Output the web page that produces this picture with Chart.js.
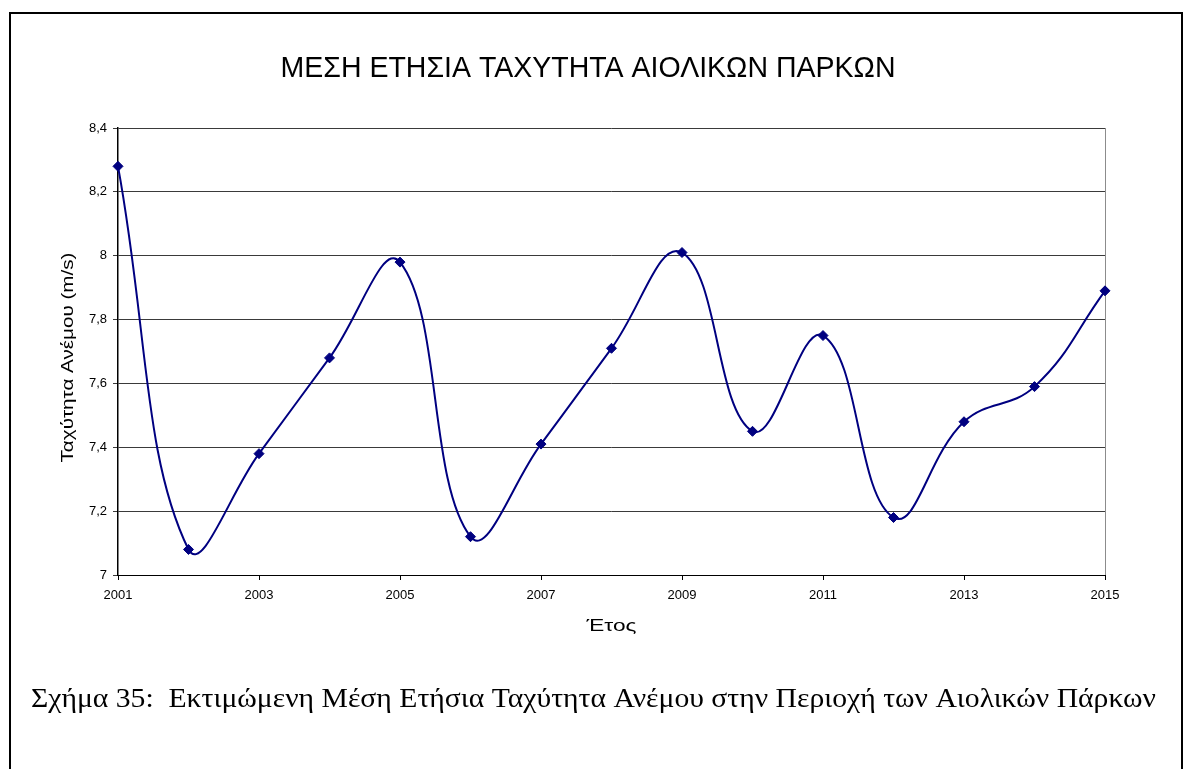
<!DOCTYPE html>
<html>
<head>
<meta charset="utf-8">
<title>Μέση ετήσια ταχύτητα αιολικών πάρκων</title>
<script src="https://cdn.jsdelivr.net/npm/chart.js@4/dist/chart.umd.min.js"></script>
<style>
  html, body { margin: 0; padding: 0; background: #ffffff; }
  canvas { display: block; }
</style>
</head>
<body>
<canvas id="windChart" width="1188" height="769"></canvas>
<script>
// Years and estimated mean annual wind speed (m/s)
const years = [2001, 2002, 2003, 2004, 2005, 2006, 2007, 2008, 2009, 2010, 2011, 2012, 2013, 2014, 2015];
const windSpeed = [8.28, 7.08, 7.38, 7.68, 7.98, 7.12, 7.41, 7.71, 8.01, 7.45, 7.75, 7.18, 7.48, 7.59, 7.89];

// Axis ticks
const yTickValues = [7, 7.2, 7.4, 7.6, 7.8, 8, 8.2, 8.4];
const xTickYears = [2001, 2003, 2005, 2007, 2009, 2011, 2013, 2015];

// Texts
const chartTitle = 'ΜΕΣΗ ΕΤΗΣΙΑ ΤΑΧΥΤΗΤΑ ΑΙΟΛΙΚΩΝ ΠΑΡΚΩΝ';
const xAxisTitle = 'Έτος';
const yAxisTitle = 'Ταχύτητα Ανέμου (m/s)';
const figureCaption = 'Σχήμα 35:  Εκτιμώμενη Μέση Ετήσια Ταχύτητα Ανέμου στην Περιοχή των Αιολικών Πάρκων';

const SANS = '"Liberation Sans", Arial, sans-serif';
const SERIF = '"Liberation Serif", "Times New Roman", serif';
const NAVY = '#000080';

const points = years.map((yr, i) => ({ x: yr, y: windSpeed[i] }));

// Text drawn at a given run length (squeezed or widened along its baseline)
function fittedText(ctx, text, x, y, font, length, align, rotation) {
  ctx.save();
  ctx.font = font;
  const w = ctx.measureText(text).width;
  const s = length ? length / w : 1;
  ctx.translate(x, y);
  if (rotation) ctx.rotate(rotation);
  ctx.scale(s, 1);
  ctx.textAlign = align;
  ctx.textBaseline = 'alphabetic';
  ctx.fillStyle = '#000';
  ctx.fillText(text, 0, 0);
  ctx.restore();
}

const figurePlugin = {
  id: 'figureFrame',
  beforeDraw(chart) {
    const { ctx, width, height } = chart;
    ctx.save();
    ctx.fillStyle = '#fff';
    ctx.fillRect(0, 0, width, height);
    // frame around the figure (open at the bottom)
    ctx.strokeStyle = '#000';
    ctx.lineWidth = 2;
    ctx.beginPath();
    ctx.moveTo(10, height + 2);
    ctx.lineTo(10, 13);
    ctx.lineTo(1182, 13);
    ctx.lineTo(1182, height + 2);
    ctx.stroke();
    ctx.restore();
  },
  beforeDatasetsDraw(chart) {
    // right edge of the plot area
    const { ctx, chartArea: a } = chart;
    ctx.save();
    ctx.strokeStyle = '#8c8c8c';
    ctx.lineWidth = 1;
    ctx.beginPath();
    ctx.moveTo(Math.round(a.right) + 0.5, a.top);
    ctx.lineTo(Math.round(a.right) + 0.5, a.bottom);
    ctx.stroke();
    ctx.restore();
  },
  afterDraw(chart) {
    const { ctx, chartArea: a } = chart;
    const midY = (a.top + a.bottom) / 2;
    fittedText(ctx, chartTitle, 588, 77, '30px ' + SANS, 615, 'center');
    fittedText(ctx, xAxisTitle, (a.left + a.right) / 2, 631, '16px ' + SANS, 50, 'center');
    fittedText(ctx, yAxisTitle, 73, midY + 6, '17px ' + SANS, 210, 'center', -Math.PI / 2);
    fittedText(ctx, figureCaption, 31, 707, '27px ' + SERIF, 1125, 'left');
  }
};

new Chart(document.getElementById('windChart'), {
  type: 'line',
  data: {
    datasets: [{
      data: points,
      borderColor: NAVY,
      backgroundColor: NAVY,
      borderWidth: 2,
      tension: 0.42,
      pointStyle: 'rectRot',
      pointRadius: 5,
      pointBorderWidth: 1,
      pointBackgroundColor: NAVY,
      pointBorderColor: NAVY,
      clip: false
    }]
  },
  options: {
    responsive: false,
    animation: false,
    devicePixelRatio: 1,
    layout: { padding: { left: 52, top: 128, right: 83, bottom: 134 } },
    plugins: {
      legend: { display: false },
      title: { display: false },
      tooltip: { enabled: false }
    },
    scales: {
      x: {
        type: 'linear',
        min: 2001,
        max: 2015,
        afterFit: s => { s.height = 60; },
        afterBuildTicks: s => { s.ticks = xTickYears.map(v => ({ value: v })); },
        ticks: {
          autoSkip: false,
          maxRotation: 0,
          padding: 8,
          color: '#000',
          font: { family: SANS, size: 13 },
          callback: v => String(v)
        },
        grid: {
          drawOnChartArea: false,
          drawTicks: true,
          tickLength: 5,
          color: '#000'
        },
        border: { display: true, color: '#000', width: 1 }
      },
      y: {
        min: 7,
        max: 8.4,
        afterFit: s => { s.width = 66; },
        afterBuildTicks: s => { s.ticks = yTickValues.map(v => ({ value: v })); },
        ticks: {
          padding: 6,
          color: '#000',
          font: { family: SANS, size: 13 },
          callback: v => String(v).replace('.', ',')
        },
        grid: {
          drawTicks: true,
          tickLength: 5,
          color: '#3a3a3a',
          lineWidth: 1
        },
        border: { display: true, color: '#000', width: 1.5 }
      }
    }
  },
  plugins: [figurePlugin]
});
</script>
</body>
</html>
